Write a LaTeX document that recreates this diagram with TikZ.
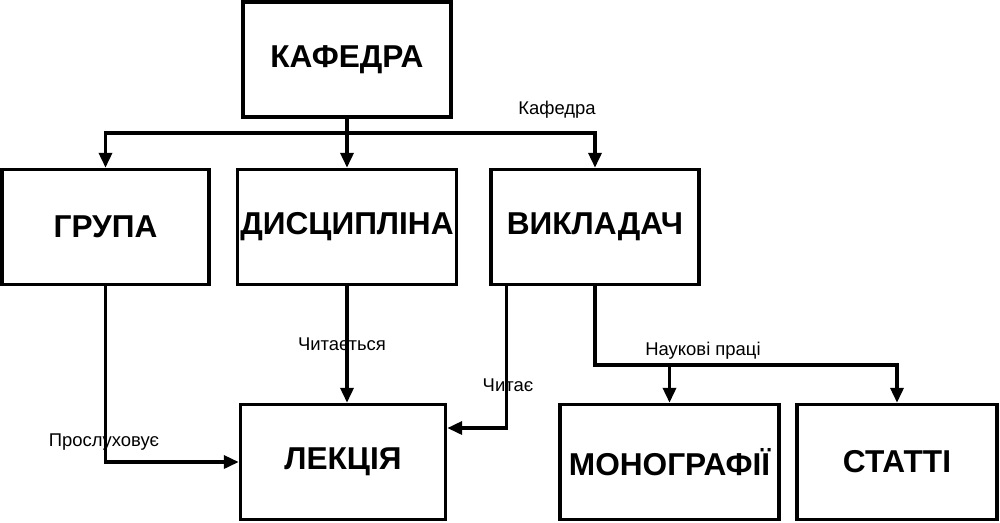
\documentclass[tikz,border=0pt]{standalone}
\usepackage{fontspec}
\setmainfont{Liberation Sans}
\usetikzlibrary{arrows.meta}

\begin{document}
\begin{tikzpicture}[
    x=0.02cm, y=-0.02cm,
    entity/.style={draw, line width=2pt, minimum height=2.3cm, inner sep=0pt,
                   font=\fontsize{18}{21}\selectfont\bfseries},
    link/.style={line width=2pt, -{Triangle[length=0.3cm, width=0.26cm]}},
    role/.style={font=\fontsize{10.5}{12}\selectfont, inner sep=0pt},
]
\useasboundingbox (0,0) rectangle (1000,522);

% ── Top level ────────────────────────────────────────────────────────────────
\node[entity, minimum width=4.16cm] (kafedra) at (347,59.5) {КАФЕДРА};

% ── Middle row ───────────────────────────────────────────────────────────────
\node[entity, minimum width=4.14cm] (grupa)      at (105.5,227) {ГРУПА};
\node[entity, minimum width=4.38cm] (dyscyplina) at (347,227)   {ДИСЦИПЛІНА};
\node[entity, minimum width=4.16cm] (vykladach)  at (595,227)   {ВИКЛАДАЧ};

% ── Bottom row ───────────────────────────────────────────────────────────────
\node[entity, minimum width=4.1cm]  (lektsiya)   at (343,462)   {ЛЕКЦІЯ};
\node[entity, minimum width=4.38cm] (monohrafii) at (669.5,462) {МОНОГРАФІЇ};
\node[entity, minimum width=4.0cm]  (statti)     at (897,462)   {СТАТТІ};

% ── Connectors ───────────────────────────────────────────────────────────────
\coordinate (topbus) at (347,133);
\draw[link] (kafedra.south) -- (topbus) -| (grupa.north);
\draw[link] (topbus) -- (dyscyplina.north);
\draw[link] (topbus) -| (vykladach.north);
\node[role] (lblkafedra) at (557,110) {Кафедра};

\draw[link] (dyscyplina.south) -- (dyscyplina.south |- lektsiya.north);
\node[role] (lblchytaietsia) at (342,344) {Читається};

\draw[link] (grupa.south) |- (lektsiya.west);
\node[role] (lblproslukhovuie) at (104,442) {Прослуховує};

\coordinate (readstem) at ([xshift=0.34cm]vykladach.south west);
\draw[link] (readstem) |- ([yshift=0.68cm]lektsiya.east);
\node[role] (lblchytaie) at (508,385) {Читає};

\coordinate (workbus) at (595,365);
\draw[link] (vykladach.south) -- (workbus) -| (monohrafii.north);
\draw[link] (workbus) -| (statti.north);
\node[role] (lblpratsi) at (703,351) {Наукові праці};

\end{tikzpicture}
\end{document}
